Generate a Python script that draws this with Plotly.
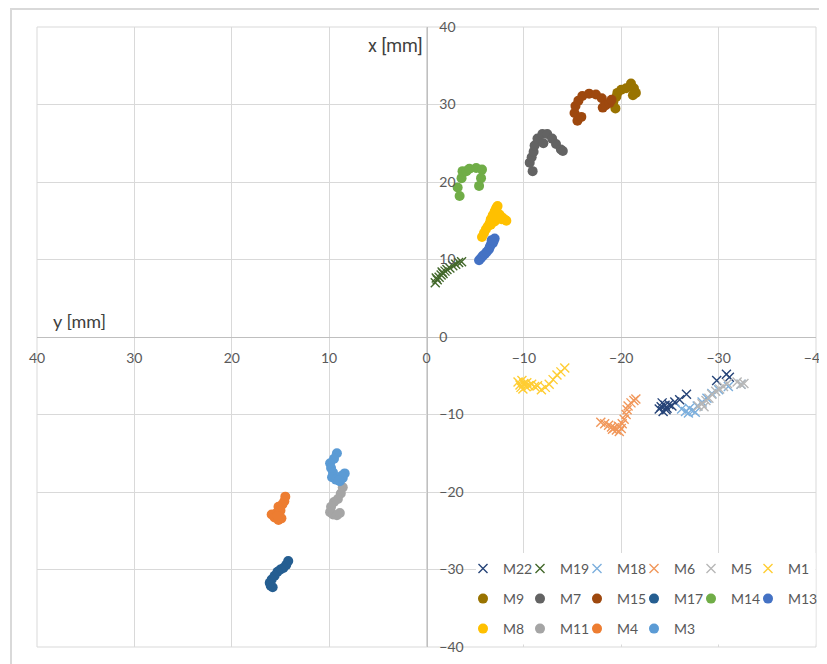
import plotly.graph_objects as go

# ---- data: horizontal axis = "y [mm]", vertical axis = "x [mm]" ----
M22_y = [-23.9, -24.1, -24.3, -24.5, -24.7, -24.9, -25.2, -25.5, -26.0, -26.7, -29.8, -30.8, -31.1, -24.2, -24.6]
M22_x = [-9.3, -9.0, -9.6, -8.8, -9.2, -8.7, -8.9, -8.4, -8.1, -7.4, -5.6, -4.8, -5.2, -8.5, -9.4]

M19_y = [-0.9, -1.1, -1.3, -1.5, -1.7, -1.9, -2.1, -2.4, -2.7, -3.0, -3.3, -3.6, -1.0, -1.6]
M19_x = [7.0, 7.4, 7.7, 8.0, 8.2, 8.5, 8.7, 8.9, 9.2, 9.4, 9.6, 9.7, 7.6, 8.4]

M18_y = [-26.2, -26.6, -27.0, -27.4, -27.8, -28.3, -28.8, -29.3, -30.0, -31.0, -32.3, -26.9, -27.6]
M18_x = [-9.3, -9.6, -9.2, -9.5, -8.9, -8.4, -7.9, -7.3, -6.8, -6.4, -6.1, -9.8, -9.7]

M6_y = [-17.9, -18.3, -18.7, -19.0, -19.3, -19.5, -19.8, -20.0, -19.7, -20.1, -20.3, -20.5, -20.6, -20.7, -21.0, -21.3, -21.5, -19.1]
M6_x = [-11.0, -11.2, -11.4, -11.6, -11.7, -12.0, -12.2, -11.8, -11.5, -11.2, -10.6, -10.0, -9.4, -8.9, -8.5, -8.2, -8.0, -11.9]

M5_y = [-27.9, -28.3, -28.7, -29.0, -29.3, -29.7, -30.1, -30.5, -30.9, -31.9, -32.3, -32.6, -28.5]
M5_x = [-8.9, -8.6, -8.2, -7.9, -7.4, -7.0, -6.7, -6.4, -6.0, -5.8, -6.1, -6.0, -9.0]

M1_y = [-9.4, -9.6, -9.8, -9.7, -10.0, -10.2, -10.5, -10.8, -11.1, -11.4, -11.8, -12.2, -12.6, -13.0, -13.4, -13.8, -14.2, -9.9, -10.3]
M1_x = [-5.8, -6.2, -5.6, -6.5, -6.0, -6.4, -6.3, -6.1, -6.4, -6.3, -6.8, -6.5, -6.1, -5.5, -4.9, -4.5, -4.0, -6.7, -5.9]

M9_y = [-19.4, -19.2, -19.5, -19.6, -20.0, -20.5, -21.0, -21.3, -21.5, -21.2]
M9_x = [29.5, 30.4, 31.0, 31.5, 31.9, 32.1, 32.7, 32.1, 31.5, 31.2]

M7_y = [-10.9, -10.6, -10.8, -11.0, -11.1, -11.4, -11.9, -12.4, -12.9, -13.3, -13.8, -14.0, -12.0]
M7_x = [21.4, 22.5, 23.2, 23.9, 24.7, 25.6, 26.2, 26.2, 25.6, 24.9, 24.2, 24.0, 25.0]

M15_y = [-15.5, -15.2, -15.3, -15.6, -16.0, -16.7, -17.4, -18.0, -18.1, -18.4, -18.8, -19.0, -15.9]
M15_x = [27.9, 28.9, 29.8, 30.5, 31.1, 31.4, 31.3, 30.8, 29.6, 29.9, 30.2, 30.6, 28.4]

M17_y = [14.2, 14.4, 14.7, 15.0, 15.3, 15.6, 15.9, 16.1, 16.0, 15.8]
M17_x = [-28.9, -29.4, -29.8, -30.0, -30.3, -30.8, -31.3, -31.7, -32.1, -32.3]

M14_y = [-3.4, -3.2, -3.6, -3.7, -4.1, -4.4, -5.1, -5.7, -5.6, -5.4]
M14_x = [18.2, 19.3, 20.5, 21.4, 21.4, 21.7, 21.8, 21.6, 20.5, 19.5]

M13_y = [-5.4, -5.6, -5.8, -6.0, -6.2, -6.4, -6.5, -6.6, -6.8, -6.9, -7.0, -6.7]
M13_x = [9.9, 10.2, 10.5, 10.7, 11.0, 11.3, 11.6, 11.9, 12.1, 12.4, 12.7, 12.5]

M8_y = [-5.7, -5.9, -6.1, -6.3, -6.5, -6.6, -6.8, -7.0, -7.2, -7.3, -7.1, -7.5, -7.8, -8.1, -8.2, -7.7, -7.0, -6.6]
M8_x = [12.9, 13.4, 13.9, 14.3, 14.7, 15.2, 15.7, 16.2, 16.7, 16.9, 16.4, 15.8, 15.4, 15.1, 15.0, 15.2, 14.9, 14.5]

M11_y = [8.6, 8.8, 9.1, 9.5, 9.8, 9.9, 9.6, 9.2, 8.9]
M11_x = [-19.4, -20.2, -20.9, -21.3, -21.9, -22.6, -22.9, -23.0, -22.7]

M4_y = [14.5, 14.6, 14.8, 15.2, 15.0, 15.5, 15.9, 15.6, 15.2, 14.9, 15.3]
M4_x = [-20.6, -21.2, -21.6, -21.9, -22.4, -22.8, -22.9, -23.3, -23.6, -23.4, -23.1]

M3_y = [9.2, 9.5, 9.9, 9.8, 9.6, 9.7, 9.3, 8.9, 8.6, 8.4, 8.7, 9.0]
M3_x = [-15.0, -15.7, -16.3, -16.9, -17.5, -18.1, -18.4, -18.6, -18.2, -17.6, -17.9, -18.5]

tick_vals = [-40, -30, -20, -10, 0, 10, 20, 30, 40]

# ---- styles ----
series = [
    ("M22", M22_y, M22_x, "x", "#264478", "legend"),
    ("M19", M19_y, M19_x, "x", "#43682B", "legend"),
    ("M18", M18_y, M18_x, "x", "#7CAFDD", "legend"),
    ("M6", M6_y, M6_x, "x", "#F1975A", "legend"),
    ("M5", M5_y, M5_x, "x", "#B7B7B7", "legend"),
    ("M1", M1_y, M1_x, "x", "#FFCD33", "legend"),
    ("M9", M9_y, M9_x, "o", "#997300", "legend2"),
    ("M7", M7_y, M7_x, "o", "#636363", "legend2"),
    ("M15", M15_y, M15_x, "o", "#9E480E", "legend2"),
    ("M17", M17_y, M17_x, "o", "#255E91", "legend2"),
    ("M14", M14_y, M14_x, "o", "#70AD47", "legend2"),
    ("M13", M13_y, M13_x, "o", "#4472C4", "legend2"),
    ("M8", M8_y, M8_x, "o", "#FFC000", "legend3"),
    ("M11", M11_y, M11_x, "o", "#A5A5A5", "legend3"),
    ("M4", M4_y, M4_x, "o", "#ED7D31", "legend3"),
    ("M3", M3_y, M3_x, "o", "#5B9BD5", "legend3"),
]

fig = go.Figure()
for name, ys, xs, kind, color, leg in series:
    if kind == "x":
        marker = dict(symbol="x-thin", size=9, color=color, line=dict(color=color, width=1.4))
    else:
        marker = dict(symbol="circle", size=10, color=color, line=dict(width=0))
    fig.add_trace(go.Scatter(x=ys, y=xs, mode="markers", name=name, marker=marker, legend=leg))

# invisible spacer entries so the last real legend label of each row is not clipped
for leg in ["legend", "legend2", "legend3"]:
    fig.add_trace(go.Scatter(x=[None], y=[None], mode="markers", name=" ", legend=leg,
                             marker=dict(color="rgba(0,0,0,0)", size=1), hoverinfo="skip"))

FONT = "Lato, Carlito, sans-serif"
OFF = 8  # page body margin
W, H = 827 - OFF, 664 - OFF
ML, MT = 37 - OFF, 27 - OFF
MR = W - (816 - OFF)
MB = H - (647 - OFF)
PW, PH = W - ML - MR, H - MT - MB


def px(xw):
    return (xw - OFF - ML) / PW


def py(yw):
    return (H - MB - (yw - OFF)) / PH


axis_common = dict(
    tickvals=tick_vals,
    showgrid=True, gridcolor="#d9d9d9", gridwidth=1,
    zeroline=False,
    showline=True, linecolor="#bfbfbf", linewidth=1,
    ticks="",
    tickfont=dict(family=FONT, size=14, color="#595959"),
    ticklabeloverflow="allow",
    anchor="free", position=0.5,
    fixedrange=True, automargin=False,
)

legend_common = dict(
    orientation="h", xanchor="left", yanchor="middle",
    bgcolor="rgba(0,0,0,0)", borderwidth=0,
    font=dict(family=FONT, size=14, color="#595959"),
    entrywidthmode="pixels", entrywidth=12,
    itemclick=False, itemdoubleclick=False,
)
LX = px(463)

fig.update_layout(
    width=W, height=H,
    margin=dict(l=ML, r=MR, t=MT, b=MB, pad=0, autoexpand=False),
    paper_bgcolor="white", plot_bgcolor="white",
    xaxis=dict(range=[40, -40], side="bottom", ticklabelstandoff=8, **axis_common),
    yaxis=dict(range=[-40, 40], side="right", ticklabelstandoff=9, **axis_common),
    showlegend=True,
    legend=dict(x=LX, y=py(569), **legend_common),
    legend2=dict(x=LX, y=py(599), **legend_common),
    legend3=dict(x=LX, y=py(629), **legend_common),
    annotations=[
        dict(text="x [mm]", xref="paper", yref="paper", x=px(425), y=py(45),
             xanchor="right", yanchor="middle", showarrow=False,
             font=dict(family="Liberation Sans Narrow, Roboto, sans-serif", size=18, color="#404040")),
        dict(text="y [mm]", xref="paper", yref="paper", x=px(51), y=py(321),
             xanchor="left", yanchor="middle", showarrow=False,
             font=dict(family=FONT, size=18, color="#404040")),
    ],
    shapes=[
        # plot area frame
        dict(type="rect", xref="paper", yref="paper", x0=0, x1=1, y0=0, y1=1,
             line=dict(color="#d9d9d9", width=1), fillcolor="rgba(0,0,0,0)", layer="below"),
        # legend background box
        dict(type="rect", xref="paper", yref="paper", x0=px(476), x1=px(815.5), y0=py(644.5), y1=py(553),
             line=dict(width=0), fillcolor="white", layer="above"),
        # outer chart border
        dict(type="rect", xref="paper", yref="paper", x0=px(11), x1=px(860), y0=py(700), y1=py(9),
             line=dict(color="#d9d9d9", width=2), fillcolor="rgba(0,0,0,0)", layer="above"),
    ],
)

fig.write_html("out.html")
